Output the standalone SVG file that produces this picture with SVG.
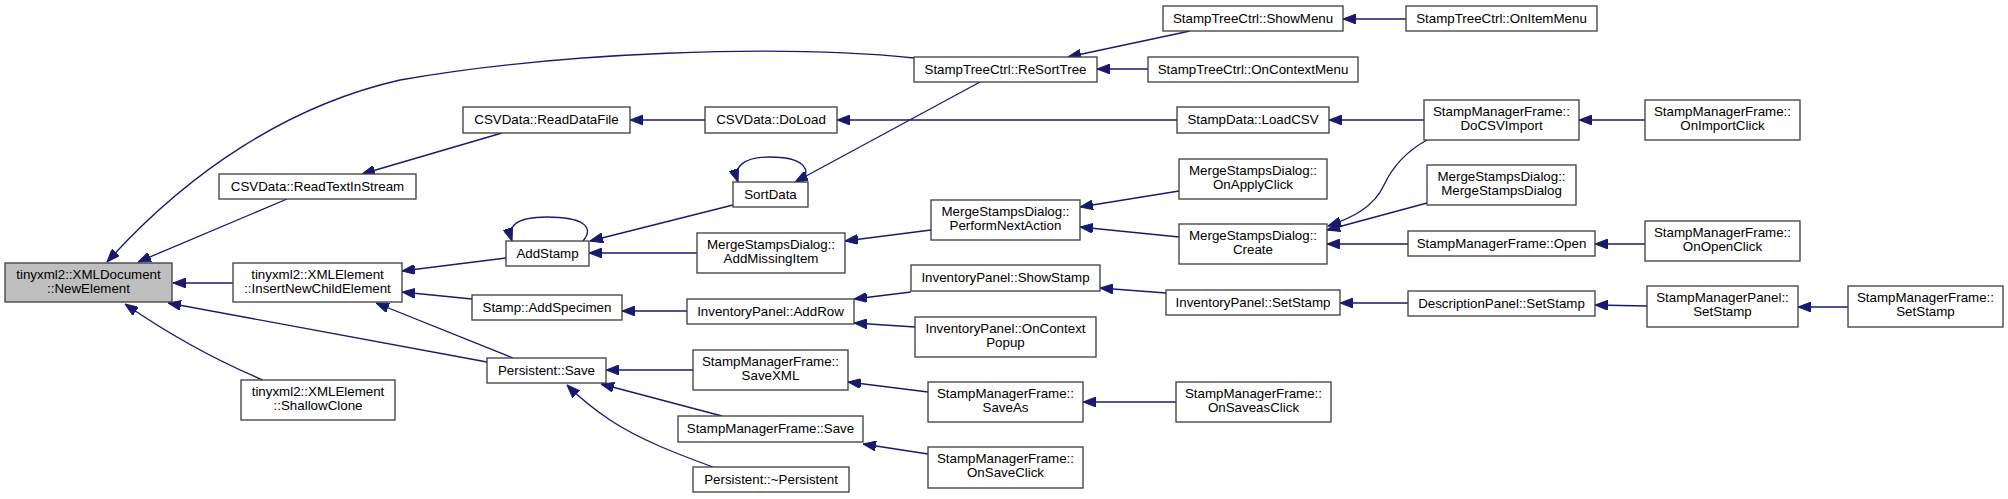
<svg xmlns="http://www.w3.org/2000/svg" width="2008" height="499" viewBox="0 0 2008 499">
<style>
.n rect{fill:#ffffff;stroke:#404040;stroke-width:1.33}
.n.hl rect{fill:#bfbfbf}
.n text{font-family:"Liberation Sans",Arial,Helvetica,sans-serif;font-size:13.33px;text-anchor:middle;fill:#000}
#edges path{fill:none;stroke:#191970;stroke-width:1.33;marker-end:url(#ah)}
</style>
<defs>
<marker id="ah" viewBox="0 0 13 10" refX="13" refY="5" markerWidth="13" markerHeight="10" markerUnits="userSpaceOnUse" orient="auto">
<path d="M0,0 L13,5 L0,10 z" fill="#191970" stroke="#191970" stroke-width="1"/>
</marker>
</defs>
<rect width="2008" height="499" fill="#ffffff"/>
<g id="edges">
<path d="M914,58 C780,44 560,52 400,80 C290,105 190,170 107,262"/>
<path d="M287,199 L138,262"/>
<path d="M233,283 L173,283"/>
<path d="M487,362 L168,303"/>
<path d="M263,380 C220,362 170,335 125,304"/>
<path d="M502,133 L362,174"/>
<path d="M705,120 L630,120"/>
<path d="M1177,120 L837,120"/>
<path d="M1424,120 L1329,120"/>
<path d="M1645,120 L1579,120"/>
<path d="M1190,31 L1068,57"/>
<path d="M1148,69 L1097,69"/>
<path d="M1406,19 L1343,19"/>
<path d="M980,82 L795,182"/>
<path d="M802,182 C812,168 802,157 770,157 C743,157 733,167 738,182"/>
<path d="M733,205 L590,241"/>
<path d="M583,241 C595,227 583,217 547,217 C516,217 507,226 512,241"/>
<path d="M697,253 L589,253"/>
<path d="M931,230 L845,241"/>
<path d="M506,258 L402,271"/>
<path d="M472,299 L402,292"/>
<path d="M513,358 L376,303"/>
<path d="M687,311 L622,311"/>
<path d="M911,292 L854,299"/>
<path d="M915,327 L854,323"/>
<path d="M693,370 L606,370"/>
<path d="M722,416 L601,384"/>
<path d="M713,467 C680,455 640,440 610,420 C595,410 580,398 567,385"/>
<path d="M928,392 L848,382"/>
<path d="M928,454 L863,444"/>
<path d="M1176,402 L1083,402"/>
<path d="M1179,191 L1080,207"/>
<path d="M1179,237 L1080,227"/>
<path d="M1427,140 C1405,152 1392,168 1384,185 C1374,207 1352,218 1328,226"/>
<path d="M1427,203 L1327,230"/>
<path d="M1408,244 L1327,244"/>
<path d="M1645,244 L1595,244"/>
<path d="M1166,293 L1100,288"/>
<path d="M1408,303 L1340,303"/>
<path d="M1647,306 L1595,305"/>
<path d="M1848,307 L1798,307"/>
</g>
<g id="n0" class="n hl"><rect x="5" y="263" width="167" height="39"/><text x="88.5" y="279">tinyxml2::XMLDocument</text><text x="88.5" y="293">::NewElement</text></g>
<g id="n1" class="n"><rect x="914" y="57" width="183" height="25"/><text x="1005.5" y="74">StampTreeCtrl::ReSortTree</text></g>
<g id="n2" class="n"><rect x="219" y="174" width="197" height="25"/><text x="317.5" y="191">CSVData::ReadTextInStream</text></g>
<g id="n3" class="n"><rect x="233" y="263" width="169" height="39"/><text x="317.5" y="279">tinyxml2::XMLElement</text><text x="317.5" y="293">::InsertNewChildElement</text></g>
<g id="n4" class="n"><rect x="487" y="358" width="119" height="25"/><text x="546.5" y="375">Persistent::Save</text></g>
<g id="n5" class="n"><rect x="241" y="380" width="154" height="40"/><text x="318" y="396">tinyxml2::XMLElement</text><text x="318" y="410">::ShallowClone</text></g>
<g id="n6" class="n"><rect x="1163" y="6" width="180" height="25"/><text x="1253" y="23">StampTreeCtrl::ShowMenu</text></g>
<g id="n7" class="n"><rect x="1148" y="57" width="210" height="25"/><text x="1253" y="74">StampTreeCtrl::OnContextMenu</text></g>
<g id="n8" class="n"><rect x="1406" y="6" width="191" height="25"/><text x="1501.5" y="23">StampTreeCtrl::OnItemMenu</text></g>
<g id="n9" class="n"><rect x="463" y="107" width="167" height="26"/><text x="546.5" y="124">CSVData::ReadDataFile</text></g>
<g id="n10" class="n"><rect x="705" y="107" width="132" height="26"/><text x="771" y="124">CSVData::DoLoad</text></g>
<g id="n11" class="n"><rect x="1177" y="107" width="152" height="26"/><text x="1253" y="124">StampData::LoadCSV</text></g>
<g id="n12" class="n"><rect x="1424" y="100" width="155" height="40"/><text x="1501.5" y="116">StampManagerFrame::</text><text x="1501.5" y="130">DoCSVImport</text></g>
<g id="n13" class="n"><rect x="1645" y="100" width="155" height="40"/><text x="1722.5" y="116">StampManagerFrame::</text><text x="1722.5" y="130">OnImportClick</text></g>
<g id="n14" class="n"><rect x="733" y="182" width="75" height="25"/><text x="770.5" y="199">SortData</text></g>
<g id="n15" class="n"><rect x="506" y="241" width="83" height="25"/><text x="547.5" y="258">AddStamp</text></g>
<g id="n16" class="n"><rect x="697" y="233" width="148" height="40"/><text x="771" y="249">MergeStampsDialog::</text><text x="771" y="263">AddMissingItem</text></g>
<g id="n17" class="n"><rect x="931" y="200" width="149" height="40"/><text x="1005.5" y="216">MergeStampsDialog::</text><text x="1005.5" y="230">PerformNextAction</text></g>
<g id="n18" class="n"><rect x="1179" y="159" width="148" height="40"/><text x="1253" y="175">MergeStampsDialog::</text><text x="1253" y="189">OnApplyClick</text></g>
<g id="n19" class="n"><rect x="1179" y="224" width="148" height="40"/><text x="1253" y="240">MergeStampsDialog::</text><text x="1253" y="254">Create</text></g>
<g id="n20" class="n"><rect x="1427" y="165" width="149" height="40"/><text x="1501.5" y="181">MergeStampsDialog::</text><text x="1501.5" y="195">MergeStampsDialog</text></g>
<g id="n21" class="n"><rect x="1408" y="231" width="187" height="25"/><text x="1501.5" y="248">StampManagerFrame::Open</text></g>
<g id="n22" class="n"><rect x="1645" y="221" width="155" height="40"/><text x="1722.5" y="237">StampManagerFrame::</text><text x="1722.5" y="251">OnOpenClick</text></g>
<g id="n23" class="n"><rect x="472" y="295" width="150" height="25"/><text x="547" y="312">Stamp::AddSpecimen</text></g>
<g id="n24" class="n"><rect x="687" y="299" width="167" height="25"/><text x="770.5" y="316">InventoryPanel::AddRow</text></g>
<g id="n25" class="n"><rect x="911" y="265" width="189" height="26"/><text x="1005.5" y="282">InventoryPanel::ShowStamp</text></g>
<g id="n26" class="n"><rect x="915" y="317" width="181" height="40"/><text x="1005.5" y="333">InventoryPanel::OnContext</text><text x="1005.5" y="347">Popup</text></g>
<g id="n27" class="n"><rect x="1166" y="290" width="174" height="25"/><text x="1253" y="307">InventoryPanel::SetStamp</text></g>
<g id="n28" class="n"><rect x="1408" y="291" width="187" height="25"/><text x="1501.5" y="308">DescriptionPanel::SetStamp</text></g>
<g id="n29" class="n"><rect x="1647" y="286" width="151" height="41"/><text x="1722.5" y="302">StampManagerPanel::</text><text x="1722.5" y="316">SetStamp</text></g>
<g id="n30" class="n"><rect x="1848" y="286" width="155" height="41"/><text x="1925.5" y="302">StampManagerFrame::</text><text x="1925.5" y="316">SetStamp</text></g>
<g id="n31" class="n"><rect x="693" y="350" width="155" height="40"/><text x="770.5" y="366">StampManagerFrame::</text><text x="770.5" y="380">SaveXML</text></g>
<g id="n32" class="n"><rect x="678" y="416" width="185" height="26"/><text x="770.5" y="433">StampManagerFrame::Save</text></g>
<g id="n33" class="n"><rect x="693" y="467" width="156" height="25"/><text x="771" y="484">Persistent::~Persistent</text></g>
<g id="n34" class="n"><rect x="928" y="382" width="155" height="40"/><text x="1005.5" y="398">StampManagerFrame::</text><text x="1005.5" y="412">SaveAs</text></g>
<g id="n35" class="n"><rect x="1176" y="382" width="155" height="40"/><text x="1253.5" y="398">StampManagerFrame::</text><text x="1253.5" y="412">OnSaveasClick</text></g>
<g id="n36" class="n"><rect x="928" y="447" width="155" height="41"/><text x="1005.5" y="463">StampManagerFrame::</text><text x="1005.5" y="477">OnSaveClick</text></g>
</svg>
